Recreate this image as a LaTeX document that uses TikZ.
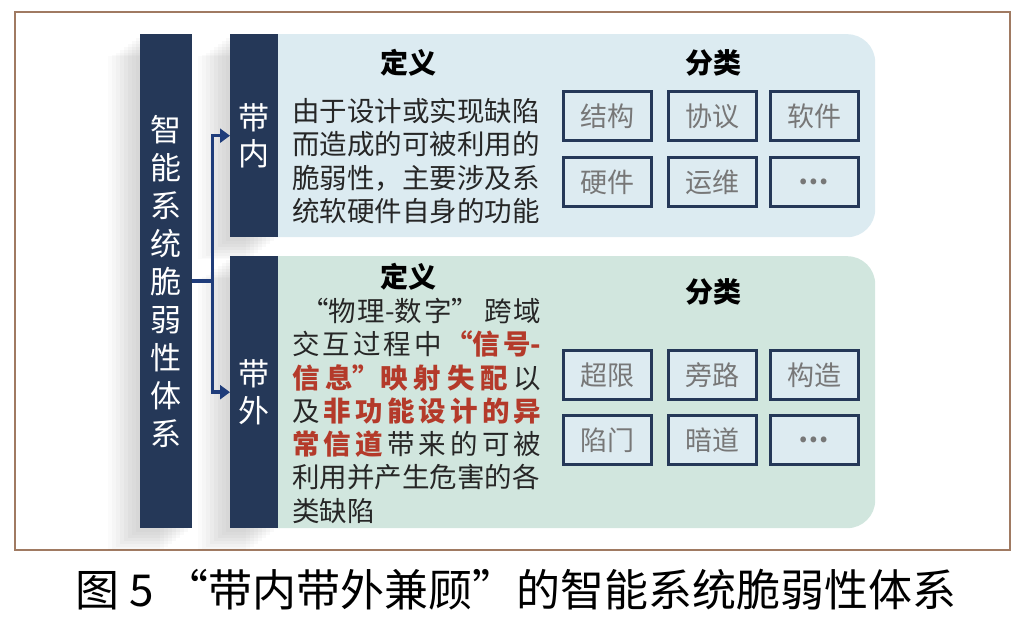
\documentclass[tikz,border=0pt]{standalone}
\usepackage{fontspec}
\setmainfont{Noto Sans CJK SC}
\usetikzlibrary{arrows.meta, shadows}
\definecolor{navybox}{HTML}{253858}
\definecolor{arrowblue}{HTML}{1F3C7A}
\definecolor{inblue}{HTML}{DCEBF1}
\definecolor{outgreen}{HTML}{D1E6DE}
\definecolor{catfill}{HTML}{DDEBF1}
\definecolor{catgray}{HTML}{777777}
\definecolor{keyred}{HTML}{B43A2A}
\definecolor{framebrown}{HTML}{A07A62}
\newcommand{\keyhl}[1]{\textcolor{keyred}{\bfseries #1}}
\newcommand{\defline}[1]{\makebox[249pt][s]{#1}}

\begin{document}
\begin{tikzpicture}[x=1pt, y=-1pt,
    softshadow/.style={
      general shadow={shadow xshift=-4pt, shadow yshift=-4pt, fill=black, opacity=0.025},
      general shadow={shadow xshift=-8pt, shadow yshift=-7pt, fill=black, opacity=0.025},
      general shadow={shadow xshift=-12pt, shadow yshift=-10pt, fill=black, opacity=0.025},
      general shadow={shadow xshift=-16pt, shadow yshift=-13pt, fill=black, opacity=0.025},
      general shadow={shadow xshift=-20pt, shadow yshift=-16pt, fill=black, opacity=0.025},
      general shadow={shadow xshift=-24pt, shadow yshift=-19pt, fill=black, opacity=0.02},
      general shadow={shadow xshift=-28pt, shadow yshift=-21pt, fill=black, opacity=0.02},
      general shadow={shadow xshift=-32pt, shadow yshift=-22pt, fill=black, opacity=0.015}},
    darkbar/.style={fill=navybox, text=white, inner sep=0pt, anchor=north west, align=center, softshadow},
    panel/.style={rounded corners=28pt, inner sep=0pt, anchor=north west},
    catbox/.style={draw=navybox, line width=3pt, fill=catfill, text=catgray, minimum width=88pt, minimum height=49pt, inner sep=0pt, font=\fontsize{27}{30}\selectfont},
    head/.style={font=\fontsize{28}{32}\selectfont\bfseries},
    deftext/.style={anchor=north west, inner sep=0pt, align=left, text=black!85, font=\fontsize{27.5}{33.3}\selectfont},
    arr/.style={draw=arrowblue, line width=3.4pt, -{Triangle[length=10pt,width=14pt]}}]
  \useasboundingbox (0,0) rectangle (1026,620);
  % Rahmen
  \draw[framebrown, line width=1.8pt] (15,12) rectangle (1010,550);
  % Hintergrundflaechen
  \node[panel, fill=inblue, minimum width=625pt, minimum height=203pt] (inpanel) at (250,34) {};
  \node[panel, fill=outgreen, minimum width=625pt, minimum height=272pt] (outpanel) at (250,256) {};
  % Saeulen
  \node[darkbar, minimum width=52pt, minimum height=494pt, font=\fontsize{31}{38}\selectfont] (system) at (140,34)
    {智\\能\\系\\统\\脆\\弱\\性\\体\\系};
  \node[darkbar, minimum width=48pt, minimum height=203pt, font=\fontsize{31}{36}\selectfont] (bandin) at (230,34) {带\\内};
  \node[darkbar, minimum width=48pt, minimum height=272pt, font=\fontsize{31}{37}\selectfont] (bandout) at (230,256) {带\\外};
  % Pfeile
  \draw[arr] (system.east) -- ++(20,0) |- (bandin.west);
  \draw[arr] (system.east) -- ++(20,0) |- (bandout.west);
  % Definition
  \node[head] (inhead) at (408,63) {定义};
  \node[deftext] (indef) at (292,98) {由于设计或实现缺陷\\而造成的可被利用的\\脆弱性，主要涉及系\\统软硬件自身的功能};
  \node[head] (outhead) at (408,277) {定义};
  \node[deftext] (outdef) at (292,298) {%
    \defline{\hspace{9pt}“物\hfil 理-数\hfil 字”\hspace{0pt plus 3fil}跨\hfil 域}\\
    \defline{交\hfil 互\hfil 过\hfil 程\hfil 中\hfil\keyhl{“信\hfil 号-}}\\
    \defline{\keyhl{信\hfil 息”映\hfil 射\hfil 失\hfil 配}\hfil 以}\\
    \defline{及\hfil\keyhl{非\hfil 功\hfil 能\hfil 设\hfil 计\hfil 的\hfil 异}}\\
    \defline{\keyhl{常\hfil 信\hfil 道}\hfil 带\hfil 来\hfil 的\hfil 可\hfil 被}\\
    利用并产生危害的各\\
    类缺陷};
  % Klassifikation
  \node[head] (incathead) at (713,63) {分类};
  \node[head] (outcathead) at (713,292) {分类};
  \foreach \t/\x/\y/\n in {结构/607/116/a, 协议/712/116/b, 软件/814/116/c,
                           硬件/607/182/d, 运维/712/182/e, {\bfseries …}/814/182/f}
    \node[catbox] (in\n) at (\x,\y) {\t};
  \foreach \t/\x/\y/\n in {超限/607/375/a, 旁路/712/375/b, 构造/814/375/c,
                           陷门/607/440/d, 暗道/712/440/e, {\bfseries …}/814/440/f}
    \node[catbox] (out\n) at (\x,\y) {\t};
  % Bildunterschrift
  \node[font=\fontsize{44}{48}\selectfont] (caption) at (516,590) {图 5 “带内带外兼顾”的智能系统脆弱性体系};
\end{tikzpicture}
\end{document}
